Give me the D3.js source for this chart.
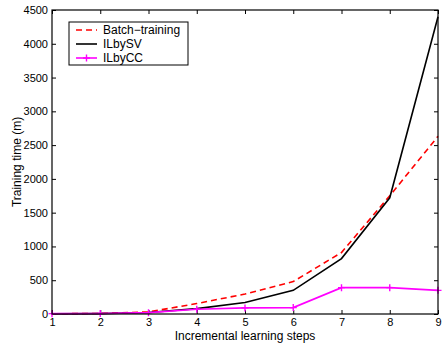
<!DOCTYPE html>
<html>
<head>
<meta charset="utf-8">
<script src="https://cdn.jsdelivr.net/npm/d3@7"></script>
<style>
  html, body { margin: 0; padding: 0; background: #fff; }
  svg { display: block; font-family: "Liberation Sans", Arial, sans-serif; }
</style>
</head>
<body>
<div id="chart"></div>
<script>
// chart data
const steps = [1, 2, 3, 4, 5, 6, 7, 8, 9];
const batchTraining = [3, 8, 30, 155, 295, 480, 910, 1750, 2630];
const ilBySV = [2, 6, 22, 80, 170, 350, 820, 1720, 4400];
const ilByCC = [5, 8, 20, 70, 90, 95, 390, 390, 350];
const yTicks = [0, 500, 1000, 1500, 2000, 2500, 3000, 3500, 4000, 4500];

const width = 447, height = 344;
const margin = { top: 10, right: 9, bottom: 30, left: 52 };
const innerW = width - margin.left - margin.right;
const innerH = height - margin.top - margin.bottom;

const svg = d3.select('#chart')
  .append('svg')
  .attr('width', width)
  .attr('height', height);

const g = svg.append('g')
  .attr('transform', `translate(${margin.left},${margin.top})`);

const x = d3.scaleLinear().domain([1, 9]).range([0, innerW]);
const y = d3.scaleLinear().domain([0, 4500]).range([innerH, 0]);

// axes (ticks point inward, like matlab)
const styleAxis = sel => {
  sel.select('.domain').remove();
  sel.selectAll('line').attr('stroke', '#000');
  sel.selectAll('text').attr('fill', '#000').style('font-size', '11px');
};

g.append('g')
  .attr('transform', `translate(0,${innerH})`)
  .call(d3.axisBottom(x).tickValues(steps).tickFormat(d3.format('d')).tickSize(-4).tickPadding(4))
  .call(styleAxis);
g.append('g')
  .call(d3.axisTop(x).tickValues(steps).tickFormat('').tickSize(-4))
  .call(styleAxis);
g.append('g')
  .call(d3.axisLeft(y).tickValues(yTicks).tickFormat(d3.format('d')).tickSize(-4).tickPadding(4))
  .call(styleAxis);
g.append('g')
  .attr('transform', `translate(${innerW},0)`)
  .call(d3.axisRight(y).tickValues(yTicks).tickFormat('').tickSize(-4))
  .call(styleAxis);

// lines
const line = d3.line()
  .x((d, i) => x(steps[i]))
  .y(d => y(d));

g.append('path')
  .datum(batchTraining)
  .attr('fill', 'none')
  .attr('stroke', '#ff0000')
  .attr('stroke-width', 1.6)
  .attr('stroke-dasharray', '6,4')
  .attr('d', line);

g.append('path')
  .datum(ilBySV)
  .attr('fill', 'none')
  .attr('stroke', '#000')
  .attr('stroke-width', 1.6)
  .attr('d', line);

g.append('path')
  .datum(ilByCC)
  .attr('fill', 'none')
  .attr('stroke', '#ff00ff')
  .attr('stroke-width', 1.6)
  .attr('d', line);

// + markers for ILbyCC
const plus = d3.symbol().type(d3.symbolCross).size(0);
g.selectAll('.mk')
  .data(ilByCC)
  .join('path')
  .attr('class', 'mk')
  .attr('transform', (d, i) => `translate(${x(steps[i])},${y(d)})`)
  .attr('d', 'M-3.5,0H3.5M0,-3.5V3.5')
  .attr('stroke', '#ff00ff')
  .attr('stroke-width', 1.4);

// frame
g.append('rect')
  .attr('width', innerW)
  .attr('height', innerH)
  .attr('fill', 'none')
  .attr('stroke', '#000')
  .attr('stroke-width', 1.2);

// axis titles
svg.append('text')
  .attr('x', margin.left + innerW / 2)
  .attr('y', height - 4)
  .attr('text-anchor', 'middle')
  .style('font-size', '12px')
  .text('Incremental learning steps');

svg.append('text')
  .attr('transform', `translate(21,${margin.top + innerH / 2}) rotate(-90)`)
  .attr('text-anchor', 'middle')
  .style('font-size', '12px')
  .text('Training time (m)');

// legend
const legendItems = [
  { label: 'Batch\u2212training', color: '#ff0000', dash: '6,4', marker: false },
  { label: 'ILbySV', color: '#000', dash: null, marker: false },
  { label: 'ILbyCC', color: '#ff00ff', dash: null, marker: true }
];

const legend = svg.append('g').attr('transform', 'translate(69,22)');
legend.append('rect')
  .attr('width', 119)
  .attr('height', 43)
  .attr('fill', '#fff')
  .attr('stroke', '#000')
  .attr('stroke-width', 1);

legendItems.forEach((item, i) => {
  const yy = 8 + i * 14;
  legend.append('line')
    .attr('x1', 7).attr('x2', 28)
    .attr('y1', yy).attr('y2', yy)
    .attr('stroke', item.color)
    .attr('stroke-width', 1.6)
    .attr('stroke-dasharray', item.dash);
  if (item.marker) {
    legend.append('path')
      .attr('transform', `translate(17.5,${yy})`)
      .attr('d', 'M-3.5,0H3.5M0,-3.5V3.5')
      .attr('stroke', item.color)
      .attr('stroke-width', 1.4);
  }
  legend.append('text')
    .attr('x', 34)
    .attr('y', yy + 4)
    .style('font-size', '12px')
    .text(item.label);
});
</script>
</body>
</html>
